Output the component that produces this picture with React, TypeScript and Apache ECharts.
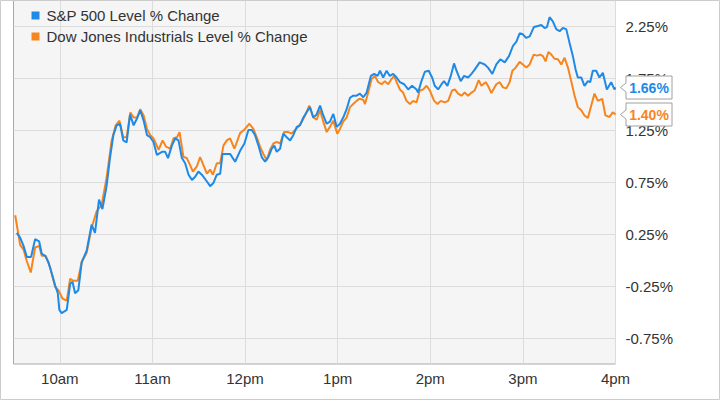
import React, { useEffect, useRef } from "react";
import * as echarts from "echarts";

const seriesNames = ["S&P 500 Level % Change", "Dow Jones Industrials Level % Change"];
const seriesColors = ["#1e8ae6", "#f7851e"];

// minutes since 9:30 open
const xTickMinutes = [30, 90, 150, 210, 270, 330, 390];
const xTickLabels = ["10am", "11am", "12pm", "1pm", "2pm", "3pm", "4pm"];

const spxMinutes = [
  2.1, 4.3, 6.5, 8.6, 11.4, 14.0, 16.6, 18.3, 20.5, 22.6, 24.8, 27.0, 28.7, 29.7, 31.2, 34.5, 36.7, 38.2, 39.9, 42.0,
  44.2, 47.4, 50.6, 52.8, 55.4, 57.6, 60.3, 62.5, 64.7, 66.8, 69.0, 71.1, 73.3, 75.5, 77.8, 80.0, 82.1, 84.3, 86.5, 88.6,
  90.7, 92.9, 96.2, 98.3, 100.1, 102.6, 104.8, 106.9, 109.1, 111.2, 113.4, 115.6, 117.7, 119.8, 122.0, 125.3, 127.4, 129.5, 131.7, 133.9,
  135.4, 138.2, 140.3, 143.6, 146.8, 149.6, 152.2, 154.4, 156.5, 158.7, 160.8, 163.0, 165.1, 167.3, 169.0, 170.5, 172.7, 174.8, 177.0, 179.2,
  181.3, 183.5, 185.6, 187.8, 189.9, 192.1, 194.2, 196.4, 198.6, 200.7, 202.9, 205.0, 207.2, 209.4, 211.5, 213.6, 215.8, 218.0, 220.1, 222.3,
  224.4, 226.6, 228.8, 231.5, 233.7, 235.9, 237.4, 239.5, 241.7, 243.8, 246.0, 248.2, 250.3, 253.1, 255.7, 258.2, 261.1, 262.1, 264.3, 266.5,
  269.0, 271.2, 272.9, 275.1, 277.3, 278.9, 281.1, 283.3, 285.4, 287.0, 289.7, 291.9, 294.5, 296.7, 298.8, 302.0, 305.3, 307.4, 310.2, 312.8,
  315.4, 318.2, 321.0, 323.6, 325.8, 327.9, 330.0, 332.2, 334.4, 337.1, 339.7, 341.9, 344.1, 345.6, 347.3, 349.4, 351.6, 353.8, 355.9, 358.1,
  360.2, 362.4, 364.1, 365.6, 367.8, 369.9, 372.1, 373.6, 375.3, 377.5, 379.6, 381.8, 384.4, 387.2, 389.3, 390
];
const spxValues = [
  0.26, 0.215, 0.136, 0.03, 0.03, 0.2, 0.18, 0.06, 0.04, -0.02, -0.13, -0.245, -0.32, -0.48, -0.51, -0.48, -0.23, -0.21, -0.32, -0.29,
  -0.02, 0.09, 0.34, 0.26, 0.58, 0.49, 0.71, 0.98, 1.2, 1.295, 1.31, 1.15, 1.13, 1.4, 1.295, 1.36, 1.44, 1.34, 1.2, 1.18,
  1.135, 1.01, 1.04, 1.04, 0.98, 1.1, 1.17, 1.15, 0.98, 0.93, 0.82, 0.77, 0.8, 0.85, 0.82, 0.755, 0.71, 0.74, 0.82, 0.83,
  1.02, 1.02, 1.02, 0.945, 1.05, 1.12, 1.25, 1.25, 1.2, 1.1, 0.99, 0.945, 0.99, 1.07, 1.1, 1.04, 1.07, 1.215, 1.18, 1.15,
  1.2, 1.28, 1.295, 1.37, 1.42, 1.47, 1.37, 1.4, 1.485, 1.39, 1.31, 1.33, 1.405, 1.28, 1.31, 1.37, 1.45, 1.56, 1.58, 1.58,
  1.6, 1.565, 1.61, 1.77, 1.79, 1.77, 1.82, 1.755, 1.82, 1.77, 1.79, 1.755, 1.71, 1.69, 1.64, 1.675, 1.64, 1.61, 1.72, 1.81,
  1.82, 1.755, 1.675, 1.64, 1.69, 1.72, 1.675, 1.77, 1.89, 1.82, 1.72, 1.77, 1.755, 1.79, 1.83, 1.9, 1.88, 1.85, 1.79, 1.88,
  1.93, 1.9, 1.96, 2.06, 2.1, 2.18, 2.17, 2.135, 2.15, 2.24, 2.25, 2.26, 2.23, 2.24, 2.335, 2.295, 2.22, 2.2, 2.23, 2.22,
  2.09, 1.96, 1.835, 1.755, 1.755, 1.675, 1.72, 1.71, 1.82, 1.82, 1.755, 1.8, 1.64, 1.71, 1.64, 1.66
];

const djiMinutes = [
  1.1, 4.3, 6.5, 8.6, 11.2, 14.0, 16.6, 18.3, 20.9, 23.7, 27.0, 29.1, 31.7, 34.5, 36.7, 38.8, 41.6, 44.2, 47.4, 50.6,
  53.9, 57.1, 60.3, 63.6, 66.2, 68.6, 71.1, 73.3, 75.7, 77.8, 80.0, 82.1, 84.3, 86.5, 88.6, 90.7, 94.0, 96.6, 98.8, 101.5,
  103.7, 105.9, 107.6, 110.1, 112.3, 114.5, 116.2, 118.8, 120.9, 123.1, 125.3, 127.4, 129.2, 131.7, 133.9, 136.0, 138.2, 140.3, 143.1, 146.8,
  150.0, 152.8, 155.4, 157.6, 159.7, 161.9, 164.1, 166.2, 168.4, 170.5, 172.7, 175.3, 178.0, 180.2, 182.4, 184.5, 186.7, 188.9, 191.6, 194.2,
  196.4, 198.6, 200.7, 202.9, 205.0, 207.2, 209.7, 211.5, 213.6, 215.8, 218.0, 220.1, 222.3, 224.0, 226.6, 227.7, 229.8, 232.0, 234.1, 236.3,
  238.5, 240.6, 242.7, 244.9, 246.6, 248.2, 250.3, 252.4, 254.6, 256.8, 258.9, 261.1, 263.2, 265.4, 267.6, 269.7, 272.5, 274.7, 276.8, 279.4,
  281.6, 284.1, 285.9, 288.0, 290.2, 292.3, 294.5, 296.7, 298.8, 301.4, 303.1, 305.9, 307.4, 309.6, 312.8, 315.0, 317.1, 319.3, 321.4, 323.2,
  325.3, 327.9, 330.0, 332.2, 334.4, 337.0, 339.1, 341.3, 343.0, 344.7, 346.5, 348.4, 350.5, 352.7, 354.9, 357.0, 359.2, 361.3, 363.5, 365.6,
  367.8, 369.9, 372.1, 374.3, 376.4, 378.6, 381.4, 383.5, 386.1, 388.2, 390
];
const djiValues = [
  0.43, 0.145, 0.1, -0.01, -0.12, 0.12, 0.136, 0.04, 0.04, -0.07, -0.26, -0.29, -0.37, -0.39, -0.18, -0.2, -0.2, -0.02, 0.07, 0.31,
  0.47, 0.53, 0.79, 1.15, 1.295, 1.34, 1.18, 1.18, 1.42, 1.37, 1.37, 1.45, 1.39, 1.26, 1.2, 1.17, 1.06, 1.15, 1.09, 1.07,
  1.17, 1.18, 1.23, 0.99, 0.98, 0.91, 0.85, 0.9, 0.99, 0.91, 0.83, 0.87, 0.82, 0.93, 0.93, 1.1, 1.15, 1.17, 1.07, 1.22,
  1.26, 1.31, 1.26, 1.18, 1.09, 1.02, 0.96, 1.06, 1.12, 1.135, 1.12, 1.23, 1.23, 1.215, 1.25, 1.28, 1.33, 1.39, 1.485, 1.37,
  1.35, 1.44, 1.33, 1.23, 1.28, 1.34, 1.215, 1.26, 1.33, 1.37, 1.47, 1.5, 1.53, 1.55, 1.54, 1.5, 1.61, 1.74, 1.77, 1.71,
  1.69, 1.72, 1.69, 1.74, 1.77, 1.71, 1.64, 1.61, 1.53, 1.5, 1.53, 1.515, 1.63, 1.64, 1.675, 1.63, 1.53, 1.5, 1.53, 1.515,
  1.53, 1.63, 1.64, 1.6, 1.58, 1.61, 1.58, 1.61, 1.63, 1.73, 1.675, 1.71, 1.675, 1.605, 1.69, 1.71, 1.66, 1.65, 1.71, 1.82,
  1.85, 1.905, 1.88, 1.85, 1.88, 1.975, 1.965, 1.975, 1.96, 1.91, 2.0, 1.975, 1.935, 1.93, 1.88, 1.945, 1.85, 1.72, 1.58, 1.47,
  1.44, 1.39, 1.365, 1.485, 1.6, 1.53, 1.55, 1.39, 1.375, 1.42, 1.4
];

const FONT = 'Arial, "Liberation Sans", sans-serif';

function pairs(xs: number[], ys: number[]) {
  return xs.map((x, i) => [x, ys[i]]);
}

export default function App() {
  const ref = useRef<HTMLDivElement>(null);
  useEffect(() => {
    if (!ref.current) return;
    const chart = echarts.init(ref.current, null, { renderer: "svg" });
    const seriesData = [pairs(spxMinutes, spxValues), pairs(djiMinutes, djiValues)];
    chart.setOption({
      animation: false,
      backgroundColor: "#ffffff",
      textStyle: { fontFamily: FONT },
      grid: {
        left: 13.5,
        right: 104.5,
        top: -3.5,
        bottom: 36,
        show: true,
        backgroundColor: "#f5f5f5",
        borderColor: "#a8a8a8",
        borderWidth: 1,
      },
      legend: {
        orient: "vertical",
        left: 26.5,
        top: 3,
        itemWidth: 8,
        itemHeight: 8,
        itemGap: 6,
        icon: "rect",
        textStyle: { fontSize: 15, color: "#333", fontFamily: FONT, padding: [0, 0, 0, 2] },
        data: seriesNames,
      },
      xAxis: {
        type: "value",
        min: 0,
        max: 390,
        interval: 30,
        axisLine: { show: false },
        axisTick: { show: false },
        axisLabel: {
          fontSize: 15,
          color: "#333",
          fontFamily: FONT,
          margin: 7,
          formatter: (v: number) => {
            const i = xTickMinutes.indexOf(Math.round(v));
            return i >= 0 ? xTickLabels[i] : "";
          },
        },
        splitLine: { show: true, lineStyle: { color: ["rgba(0,0,0,0)", "#dcdcdc"], width: 1 } },
      },
      yAxis: {
        type: "value",
        position: "right",
        min: -1,
        max: 2.5,
        interval: 0.25,
        axisLine: { show: false },
        axisTick: { show: false },
        axisLabel: {
          fontSize: 15,
          color: "#333",
          fontFamily: FONT,
          margin: 10,
          formatter: (v: number) => (Math.abs(Math.round(v * 4)) % 2 === 1 ? v.toFixed(2) + "%" : ""),
        },
        splitLine: { show: true, lineStyle: { color: ["rgba(0,0,0,0)", "#dcdcdc"], width: 1 } },
      },
      series: seriesNames.map((name, i) => ({
        name,
        type: "line",
        data: seriesData[i],
        showSymbol: false,
        symbol: "none",
        lineStyle: { width: 2, color: seriesColors[i] },
        itemStyle: { color: seriesColors[i] },
        z: 3 - i,
      })),
    });

    const graphics: any[] = [
      {
        type: "rect",
        shape: { x: 0.5, y: 0.5, width: 719, height: 399 },
        style: { fill: "none", stroke: "#cccccc", lineWidth: 1 },
        z: 100,
        silent: true,
      },
    ];
    seriesData.forEach((d, i) => {
      const last = d[d.length - 1];
      const p = chart.convertToPixel({ gridIndex: 0 }, last) as number[];
      const tipX = Math.round(p[0]) + 4.5;
      const boxL = tipX + 5.5;
      const boxW = 46;
      const boxH = 23;
      const cy = Math.round(p[1]) + 0.5;
      const top = cy - 11.5;
      graphics.push({
        type: "polygon",
        shape: {
          points: [
            [tipX, cy],
            [boxL, cy - 4.5],
            [boxL, top],
            [boxL + boxW, top],
            [boxL + boxW, top + boxH],
            [boxL, top + boxH],
            [boxL, cy + 4.5],
          ],
        },
        style: { fill: "#ffffff", stroke: "#a0a0a0", lineWidth: 1 },
        z: 110,
      });
      graphics.push({
        type: "text",
        x: boxL + boxW / 2,
        y: cy + 0.5,
        style: {
          text: (last[1] as number).toFixed(2) + "%",
          fill: seriesColors[i],
          font: `bold 14px ${FONT}`,
          textAlign: "center",
          textVerticalAlign: "middle",
        },
        z: 111,
      });
    });
    chart.setOption({ graphic: graphics });

    return () => chart.dispose();
  }, []);
  return (
    <div
      ref={ref}
      style={{ position: "absolute", left: 0, top: 0, width: 720, height: 400 }}
    />
  );
}
